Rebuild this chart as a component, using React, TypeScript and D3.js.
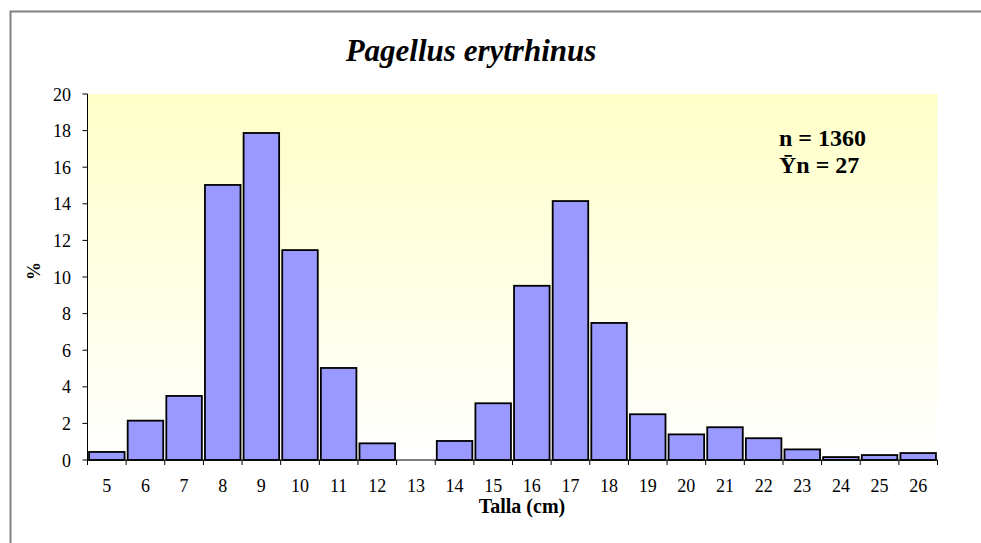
import React from "react";
import * as d3 from "d3";

const categories: string[] = ["5","6","7","8","9","10","11","12","13","14","15","16","17","18","19","20","21","22","23","24","25","26"];
const percentValues: number[] = [0.44,2.15,3.5,15.03,17.87,11.47,5.03,0.91,0,1.04,3.1,9.52,14.15,7.49,2.5,1.4,1.79,1.19,0.58,0.16,0.27,0.38];
const yTicks: number[] = [0,2,4,6,8,10,12,14,16,18,20];
const titleText = "Pagellus erytrhinus";
const xLabel = "Talla (cm)";
const yLabel = "%";
const annotations: string[] = ["n = 1360", "\u0232n = 27"];

export default function App() {
  const W = 981, H = 543;
  const left = 87.5, right = 937.5, top = 94, bottom = 460;
  const x = d3.scaleBand<string>().domain(categories).range([left, right]).paddingInner(0.08).paddingOuter(0.04);
  const edge = d3.scaleLinear().domain([0, categories.length]).range([left, right]);
  const y = d3.scaleLinear().domain([0, 20]).range([bottom, top]);
  const tf: React.CSSProperties = { fontFamily: "Liberation Serif, Times New Roman, serif" };
  return (
    <div style={{ position: "absolute", left: 0, top: 0, width: W, height: H, overflow: "hidden" }}>
      <svg width={W} height={H} style={{ display: "block" }}>
        <defs>
          <linearGradient id="bg" x1="0" y1="0" x2="0" y2="1">
            <stop offset="0" stopColor="#FFFFC8" />
            <stop offset="1" stopColor="#FFFFFF" />
          </linearGradient>
        </defs>
        <rect x={0} y={0} width={W} height={H} fill="#fff" />
        <path d={`M10.5,${H}V11.5H${W}`} fill="none" stroke="#808080" strokeWidth={2} />
        <text style={tf} x={471} y={61} textAnchor="middle" fontSize={31} fontWeight="bold" fontStyle="italic">{titleText}</text>
        <rect x={left} y={top} width={right - left} height={bottom - top} fill="url(#bg)" />
        {percentValues.map((v, i) => v > 0 ? (
          <rect key={i} x={x(categories[i])!} y={y(v)} width={x.bandwidth()} height={y(0) - y(v)}
            fill="#9999FF" stroke="#000" strokeWidth={1.8} />
        ) : null)}
        <line x1={left} x2={right} y1={bottom} y2={bottom} stroke="#000" strokeWidth={1} />
        <line x1={left} x2={left} y1={top} y2={bottom} stroke="#000" strokeWidth={1} />
        {d3.range(categories.length + 1).map(i => (
          <line key={"xt" + i} x1={edge(i)} x2={edge(i)} y1={bottom} y2={bottom + 5} stroke="#000" strokeWidth={1} />
        ))}
        {categories.map((c, i) => (
          <text style={tf} key={"xl" + i} x={x(c)! + x.bandwidth() / 2} y={492} textAnchor="middle" fontSize={18}>{c}</text>
        ))}
        {yTicks.map(t => (
          <g key={"yt" + t}>
            <line x1={left - 5} x2={left} y1={y(t)} y2={y(t)} stroke="#000" strokeWidth={1} />
            <text style={tf} x={71} y={y(t) + 6.5} textAnchor="end" fontSize={18}>{t}</text>
          </g>
        ))}
        <text style={tf} x={522} y={513} textAnchor="middle" fontSize={20} fontWeight="bold">{xLabel}</text>
        <text style={tf} transform={`translate(39.5, 271) rotate(-90)`} textAnchor="middle" fontSize={18} fontWeight="bold">{yLabel}</text>
        {annotations.map((a, i) => (
          <text style={tf} key={"an" + i} x={779} y={146 + i * 27} fontSize={24} fontWeight="bold">{a}</text>
        ))}
      </svg>
    </div>
  );
}
